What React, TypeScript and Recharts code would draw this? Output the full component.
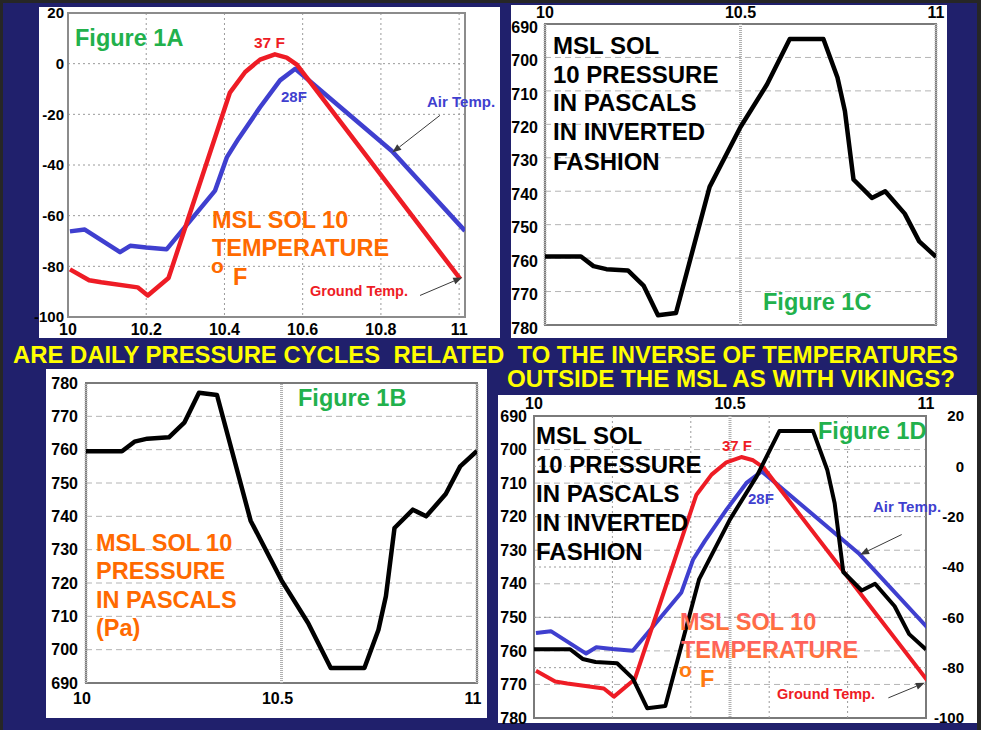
import React from 'react';
import {
  LineChart,
  Line,
  XAxis,
  YAxis,
  CartesianGrid,
  ReferenceLine,
  ReferenceArea,
} from 'recharts';

// x positions are in sols (sol 10 -> sol 11)
const solTicksTemp = [10, 10.2, 10.4, 10.6, 10.8, 11];
const solTicksPressure = [10, 10.5, 11];
const tempTicks = [-100, -80, -60, -40, -20, 0, 20];
const pressureTicks = [690, 700, 710, 720, 730, 740, 750, 760, 770, 780];

// air temperature, deg F
const airSol = [10.005, 10.043, 10.133, 10.159, 10.2, 10.252, 10.376, 10.406, 10.436, 10.491, 10.542, 10.581, 10.828, 11.015];
const airTemp = [-66.2, -65.5, -74.4, -71.9, -72.6, -73.3, -50.1, -37, -29.6, -17.2, -6.6, -2.0, -34.5, -66];

// ground temperature, deg F
const groundSol = [10.005, 10.054, 10.085, 10.178, 10.204, 10.257, 10.414, 10.453, 10.491, 10.529, 10.559, 10.585, 11.003];
const groundTemp = [-81.2, -85.5, -86.3, -88.3, -91.5, -84.6, -11.4, -3.3, 1.6, 3.7, 2.4, -0.4, -85];

// pressure, Pa
const pressureSol = [10.0, 10.092, 10.124, 10.157, 10.212, 10.252, 10.289, 10.335, 10.421, 10.5, 10.568, 10.626, 10.712, 10.748, 10.767, 10.789, 10.836, 10.87, 10.92, 10.957, 11.0];
const pressure = [759.5, 759.5, 762.4, 763.3, 763.7, 768.2, 777.1, 776.4, 738.7, 720.8, 708, 694.5, 694.5, 706, 716, 736.5, 742, 740, 746.7, 755, 759.6];

const FONT = '"Liberation Sans", Arial, sans-serif';
const RED = '#ee1c25';
const BLUE = '#3f3fcf';
const GREEN = '#22b14c';
const ORANGE = '#ff6a00';
const NAVY = '#20206c';

const tickStyle = { fontFamily: FONT, fontWeight: 700, fontSize: 16, fill: '#000' };

const toPoints = (xs: number[], ys: number[]) => xs.map((sol, i) => ({ sol, v: ys[i] }));
const airData = toPoints(airSol, airTemp);
const groundData = toPoints(groundSol, groundTemp);
const pressureData = toPoints(pressureSol, pressure);

// thin pointer with a filled head, drawn by ReferenceLine
const Arrow = (props: any) => {
  const { x1, y1, x2, y2 } = props;
  const a = Math.atan2(y2 - y1, x2 - x1);
  const L = 9;
  const W = 3.5;
  const bx = x2 - L * Math.cos(a);
  const by = y2 - L * Math.sin(a);
  const pts = `${x2},${y2} ${bx - W * Math.sin(a)},${by + W * Math.cos(a)} ${bx + W * Math.sin(a)},${by - W * Math.cos(a)}`;
  return (
    <g>
      <line x1={x1} y1={y1} x2={bx} y2={by} stroke="#3a3a3a" strokeWidth={1} />
      <polygon points={pts} fill="#3a3a3a" />
    </g>
  );
};

const RightTick = (props: any) => {
  const { x, y, payload } = props;
  return (
    <text x={x + 38} y={y} dy="0.355em" textAnchor="end" {...tickStyle} fontSize={15}>
      {payload.value}
    </text>
  );
};

const box = (left: number, top: number, width: number, height: number): React.CSSProperties => ({
  position: 'absolute',
  left,
  top,
  width,
  height,
  background: '#fff',
});

const ruler = { stroke: '#b0b0b0', strokeWidth: 3, strokeDasharray: '1 1' };

const Label = ({ x, y, size = 24, color = '#000', children, ...rest }: any) => (
  <text x={x} y={y} fontSize={size} fill={color} fontFamily={FONT} fontWeight={700} {...rest}>
    {children}
  </text>
);

const TemperatureChart = () => (
  <div style={box(39, 7, 461, 331)}>
    <LineChart width={461} height={331} margin={{ top: 6, right: 35, bottom: 0, left: 0 }}>
      <CartesianGrid stroke="#9a9a9a" strokeDasharray="2 3" />
      <XAxis
        dataKey="sol"
        type="number"
        domain={[10, 11.015]}
        ticks={solTicksTemp}
        allowDataOverflow
        interval={0}
        height={21}
        tickLine={false}
        tickSize={0}
        axisLine={false}
        tick={tickStyle}
        tickMargin={7}
      />
      <YAxis
        type="number"
        domain={[-100, 20]}
        ticks={tempTicks}
        allowDataOverflow
        interval={0}
        width={29}
        tickLine={false}
        tickSize={0}
        axisLine={false}
        tick={{ ...tickStyle, fontSize: 15 }}
        tickMargin={4}
      />
      <ReferenceArea x1={10} x2={11.015} y1={-100} y2={20} fill="none" stroke="#8c8c8c" strokeWidth={2} />
      <Line data={airData} dataKey="v" type="linear" stroke={BLUE} strokeWidth={4.5} dot={false} strokeLinejoin="round" isAnimationActive={false} />
      <Line data={groundData} dataKey="v" type="linear" stroke={RED} strokeWidth={4.5} dot={false} strokeLinejoin="round" isAnimationActive={false} />
      <ReferenceLine segment={[{ x: 10.951, y: -20.4 }, { x: 10.829, y: -35.1 }]} shape={Arrow} ifOverflow="visible" />
      <ReferenceLine segment={[{ x: 10.9, y: -91.5 }, { x: 11.008, y: -84.4 }]} shape={Arrow} ifOverflow="visible" />
    </LineChart>
  </div>
);

const PressureChart = () => (
  <div style={box(46, 369, 441, 349)}>
    <LineChart width={441} height={349} margin={{ top: 14, right: 10, bottom: 0, left: 0 }}>
      <CartesianGrid stroke="#b4b4b4" strokeDasharray="6 4" vertical={false} />
      <XAxis
        dataKey="sol"
        type="number"
        domain={[10, 11]}
        ticks={solTicksPressure}
        allowDataOverflow
        interval={0}
        height={35}
        tickLine={false}
        tickSize={0}
        axisLine={false}
        tick={{ ...tickStyle, dx: -4 }}
        tickMargin={10}
      />
      <YAxis
        type="number"
        domain={[690, 780]}
        ticks={pressureTicks}
        allowDataOverflow
        interval={0}
        width={40}
        tickLine={false}
        tickSize={0}
        axisLine={false}
        tick={tickStyle}
        tickMargin={8}
      />
      <ReferenceArea x1={10} x2={11} y1={690} y2={780} fill="none" stroke="#7a7a7a" strokeWidth={2} />
      {solTicksPressure.map((s) => (
        <ReferenceLine key={s} x={s} {...ruler} />
      ))}
      <Line data={pressureData} dataKey="v" type="linear" stroke="#000" strokeWidth={4.5} dot={false} strokeLinejoin="round" isAnimationActive={false} />
    </LineChart>
  </div>
);

const InvertedPressureChart = () => (
  <div style={box(511, 5, 436, 333)}>
    <LineChart width={436} height={333} margin={{ top: 0, right: 11, bottom: 13, left: 0 }}>
      <CartesianGrid stroke="#b4b4b4" strokeDasharray="6 4" vertical={false} />
      <XAxis
        dataKey="sol"
        type="number"
        orientation="top"
        domain={[10, 11]}
        ticks={solTicksPressure}
        allowDataOverflow
        interval={0}
        height={19}
        tickLine={false}
        tickSize={0}
        axisLine={false}
        tick={tickStyle}
        tickMargin={6}
      />
      <YAxis
        type="number"
        reversed
        domain={[690, 780]}
        ticks={pressureTicks}
        allowDataOverflow
        interval={0}
        width={34}
        tickLine={false}
        tickSize={0}
        axisLine={false}
        tick={{ ...tickStyle, dy: 3 }}
        tickMargin={7}
      />
      <ReferenceArea x1={10} x2={11} y1={690} y2={780} fill="none" stroke="#7a7a7a" strokeWidth={2} />
      {solTicksPressure.map((s) => (
        <ReferenceLine key={s} x={s} {...ruler} />
      ))}
      <Line data={pressureData} dataKey="v" type="linear" stroke="#000" strokeWidth={4.5} dot={false} strokeLinejoin="round" isAnimationActive={false} />
    </LineChart>
  </div>
);

const OverlayChart = () => (
  <div style={box(498, 395, 479, 328)}>
    <LineChart width={479} height={328} margin={{ top: 0, right: 0, bottom: 5, left: 0 }}>
      <CartesianGrid stroke="#b4b4b4" strokeDasharray="6 4" vertical={false} />
      <XAxis
        dataKey="sol"
        type="number"
        orientation="top"
        domain={[10, 11]}
        ticks={solTicksPressure}
        allowDataOverflow
        interval={0}
        height={21}
        tickLine={false}
        tickSize={0}
        axisLine={false}
        tick={tickStyle}
        tickMargin={7}
      />
      <XAxis xAxisId="t" dataKey="sol" type="number" domain={[10, 11]} allowDataOverflow hide />
      <YAxis
        type="number"
        reversed
        domain={[690, 780]}
        ticks={pressureTicks}
        allowDataOverflow
        interval={0}
        width={36}
        tickLine={false}
        tickSize={0}
        axisLine={false}
        tick={tickStyle}
        tickMargin={7}
      />
      <YAxis
        yAxisId="t"
        orientation="right"
        type="number"
        domain={[-100, 20]}
        ticks={tempTicks}
        allowDataOverflow
        interval={0}
        width={51}
        tickLine={false}
        tickSize={0}
        axisLine={false}
        tick={<RightTick />}
        tickMargin={0}
      />
      {solTicksTemp.slice(1, -1).map((s) => (
        <ReferenceLine key={`x${s}`} xAxisId="t" yAxisId="t" x={s} stroke="#9a9a9a" strokeDasharray="2 3" />
      ))}
      {tempTicks.slice(1, -1).map((t) => (
        <ReferenceLine key={`y${t}`} xAxisId="t" yAxisId="t" y={t} stroke="#9a9a9a" strokeDasharray="2 3" />
      ))}
      <ReferenceLine x={10.5} {...ruler} />
      <ReferenceArea x1={10} x2={11} y1={690} y2={780} fill="none" stroke="#7a7a7a" strokeWidth={2} />
      <Line data={airData} xAxisId="t" yAxisId="t" dataKey="v" type="linear" stroke={BLUE} strokeWidth={4} dot={false} strokeLinejoin="round" isAnimationActive={false} />
      <Line data={groundData} xAxisId="t" yAxisId="t" dataKey="v" type="linear" stroke={RED} strokeWidth={4} dot={false} strokeLinejoin="round" isAnimationActive={false} />
      <Line data={pressureData} dataKey="v" type="linear" stroke="#000" strokeWidth={4} dot={false} strokeLinejoin="round" isAnimationActive={false} />
      <ReferenceLine xAxisId="t" yAxisId="t" segment={[{ x: 10.938, y: -27.1 }, { x: 10.832, y: -35.1 }]} shape={Arrow} ifOverflow="visible" />
      <ReferenceLine xAxisId="t" yAxisId="t" segment={[{ x: 10.904, y: -92 }, { x: 10.997, y: -86 }]} shape={Arrow} ifOverflow="visible" />
    </LineChart>
  </div>
);

const Notes = () => (
  <svg width={981} height={730} style={{ position: 'absolute', left: 0, top: 0, pointerEvents: 'none' }}>
    <defs>
      <linearGradient id="salmon" x1="0" y1="0" x2="0" y2="1">
        <stop offset="0" stopColor="#ff5a6c" />
        <stop offset="1" stopColor="#ff7a2a" />
      </linearGradient>
    </defs>

    {/* Figure 1A */}
    <Label x={75} y={46} size={23.5} color={GREEN}>Figure 1A</Label>
    <Label x={254} y={48} size={15.5} color={RED}>37 F</Label>
    <Label x={281} y={102} size={15} color={BLUE}>28F</Label>
    <Label x={212} y={228} size={23.5} color={ORANGE}>MSL SOL 10</Label>
    <Label x={212} y={256} size={23.5} color={ORANGE}>TEMPERATURE</Label>
    <Label x={211} y={273} size={21} color={ORANGE}>o</Label>
    <Label x={233} y={285} size={23.5} color={ORANGE}>F</Label>
    <Label x={427} y={107} size={15} color={BLUE}>Air Temp.</Label>
    <Label x={310} y={296} size={14.5} color={RED}>Ground Temp.</Label>

    {/* Figure 1C */}
    <Label x={553} y={54} size={24}>MSL SOL</Label>
    <Label x={553} y={83} size={24}>10 PRESSURE</Label>
    <Label x={553} y={111} size={24}>IN PASCALS</Label>
    <Label x={553} y={140} size={24}>IN INVERTED</Label>
    <Label x={553} y={170} size={24}>FASHION</Label>
    <Label x={763} y={310} size={23.5} color={GREEN}>Figure 1C</Label>

    {/* title */}
    <Label x={13} y={363} size={23.5} color="#ffff00" textLength={945} lengthAdjust="spacingAndGlyphs" style={{ whiteSpace: 'pre' }}>
      {'ARE DAILY PRESSURE CYCLES  RELATED  TO THE INVERSE OF TEMPERATURES'}
    </Label>
    <Label x={507} y={387} size={23.5} color="#ffff00" textLength={448} lengthAdjust="spacingAndGlyphs" style={{ whiteSpace: 'pre' }}>
      {'OUTSIDE THE MSL AS WITH VIKINGS?'}
    </Label>

    {/* Figure 1B */}
    <Label x={298} y={406} size={23.5} color={GREEN}>Figure 1B</Label>
    <Label x={96} y={551} size={23.5} color={ORANGE}>MSL SOL 10</Label>
    <Label x={96} y={579} size={23.5} color={ORANGE}>PRESSURE</Label>
    <Label x={96} y={608} size={23.5} color={ORANGE}>IN PASCALS</Label>
    <Label x={96} y={636} size={23.5} color={ORANGE}>(Pa)</Label>

    {/* Figure 1D */}
    <Label x={536} y={444} size={24}>MSL SOL</Label>
    <Label x={536} y={473} size={24}>10 PRESSURE</Label>
    <Label x={536} y={502} size={24}>IN PASCALS</Label>
    <Label x={536} y={531} size={24}>IN INVERTED</Label>
    <Label x={536} y={560} size={24}>FASHION</Label>
    <Label x={818} y={439} size={23.5} color={GREEN}>Figure 1D</Label>
    <Label x={722} y={451} size={15} color={RED}>37 F</Label>
    <Label x={748} y={504} size={15} color={BLUE}>28F</Label>
    <Label x={873} y={512} size={15} color={BLUE}>Air Temp.</Label>
    <Label x={680} y={630} size={23.5} color="url(#salmon)">MSL SOL 10</Label>
    <Label x={681} y={658} size={23.5} color="url(#salmon)">TEMPERATURE</Label>
    <Label x={679} y={677} size={21} color="#ff7a10">o</Label>
    <Label x={700} y={687} size={23.5} color="#ff7a10">F</Label>
    <Label x={777} y={699} size={14.5} color={RED}>Ground Temp.</Label>
  </svg>
);

export default function App() {
  return (
    <div style={{ position: 'absolute', left: 0, top: 0, width: 981, height: 730, background: '#262626', overflow: 'hidden' }}>
      <style>{'.recharts-surface { overflow: visible; }'}</style>
      <div style={{ position: 'absolute', left: 3, top: 3, width: 974, height: 727, background: NAVY }} />
      <TemperatureChart />
      <InvertedPressureChart />
      <PressureChart />
      <OverlayChart />
      <Notes />
    </div>
  );
}
